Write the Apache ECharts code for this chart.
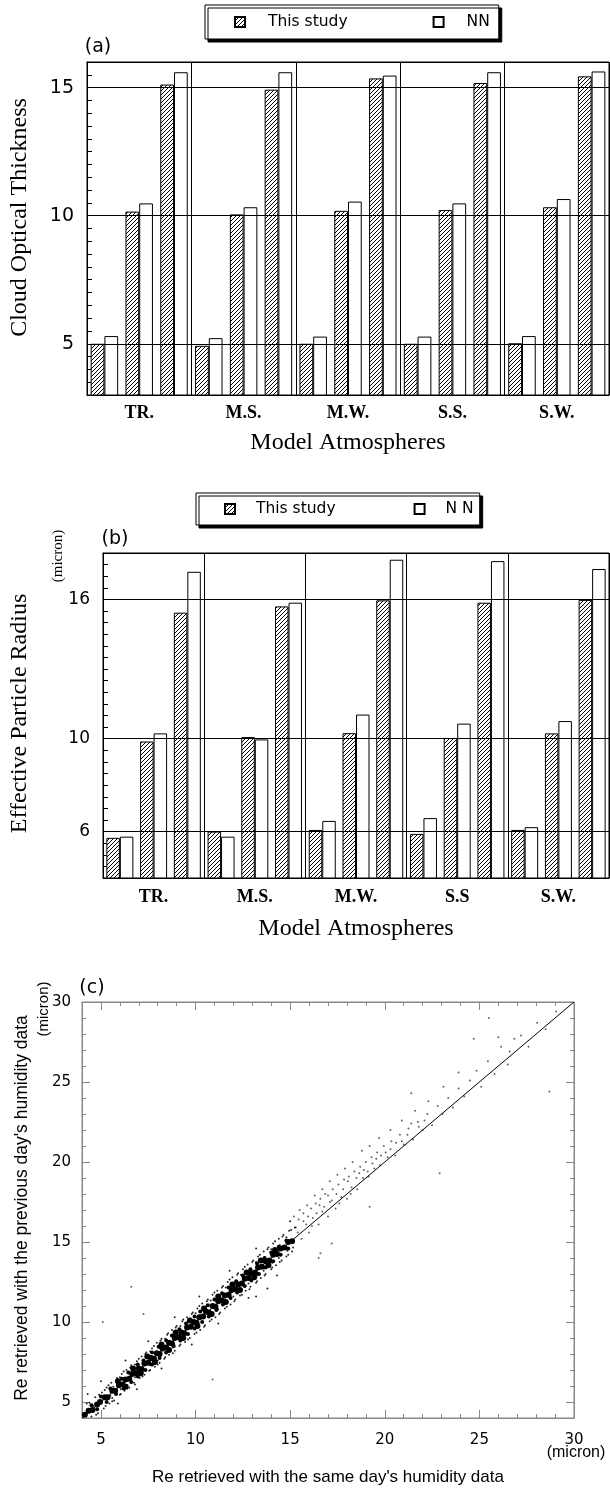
<!DOCTYPE html>
<html>
<head>
<meta charset="utf-8">
<title>Cloud retrieval comparison</title>
<script src="https://cdn.jsdelivr.net/npm/echarts@6.0.0/dist/echarts.min.js"></script>
<style>
  html, body { margin: 0; padding: 0; background: #fff; }
  #chart { width: 610px; height: 1489px; }
</style>
</head>
<body>
<div id="chart"></div>
<script>
// (a) cloud optical thickness, true values 5 / 10 / 15
const atmosA = ["TR.", "M.S.", "M.W.", "S.S.", "S.W."];
const tauTicks = [5, 10, 15];
const studyTau5 = [5.0, 4.92, 5.0, 5.0, 5.02];
const nnTau5 = [5.3, 5.22, 5.28, 5.28, 5.3];
const studyTau10 = [10.16, 10.05, 10.19, 10.22, 10.33];
const nnTau10 = [10.48, 10.33, 10.55, 10.48, 10.65];
const studyTau15 = [15.12, 14.92, 15.36, 15.18, 15.44];
const nnTau15 = [15.6, 15.6, 15.47, 15.6, 15.63];

// (b) effective particle radius, true values 6 / 10 / 16 micron
const atmosB = ["TR.", "M.S.", "M.W.", "S.S", "S.W."];
const reTicks = [6, 10, 16];
const studyRe6 = [5.73, 6.0, 6.07, 5.9, 6.07];
const nnRe6 = [5.78, 5.78, 6.46, 6.58, 6.19];
const studyRe10 = [9.88, 10.07, 10.24, 10.03, 10.23];
const nnRe10 = [10.23, 9.97, 11.04, 10.65, 10.76];
const studyRe16 = [15.43, 15.7, 15.96, 15.86, 15.98];
const nnRe16 = [17.19, 15.86, 17.71, 17.65, 17.31];

// (c) Re same day vs previous day (micron)
const scatterTicks = [5, 10, 15, 20, 25, 30];
const oneToOneX = [4, 30];
const oneToOneY = [4, 30];
// dense ridge of the cloud
const coreDots = [
  [4.15,4.2],[4.35,4.45],[4.55,4.5],[4.8,4.85],[4.95,5.0],[5.2,5.3],[5.35,5.3],[5.6,5.7],[5.75,5.7],[5.95,6.05],
  [6.15,6.1],[6.3,6.4],[6.5,6.45],[6.65,6.75],[6.85,6.8],[7.0,7.1],[7.15,7.05],[7.3,7.4],[7.5,7.45],[7.65,7.75],
  [7.8,7.7],[7.95,8.05],[8.1,8.0],[8.25,8.35],[8.45,8.4],[8.6,8.7],[8.75,8.65],[8.9,9.0],[9.1,9.05],[9.25,9.35],
  [9.4,9.3],[9.55,9.65],[9.75,9.7],[9.9,10.0],[10.05,9.95],[10.2,10.3],[10.4,10.35],[10.55,10.65],[10.7,10.6],[10.9,11.0],
  [11.05,10.95],[11.2,11.3],[11.4,11.35],[11.55,11.65],[11.75,11.7],[11.9,12.0],[12.1,12.05],[12.25,12.35],[12.45,12.4],[12.6,12.7],
  [12.8,12.75],[12.95,13.05],[13.15,13.1],[13.3,13.4],[13.5,13.45],[13.7,13.8],[13.9,13.85],[14.1,14.2],[14.3,14.25],[14.5,14.6],
  [14.7,14.65],[14.9,15.0],[15.1,15.05],
  [5.9,6.3],[6.7,7.1],[7.45,7.85],[8.2,8.6],[8.95,9.35],[9.7,10.1],[10.45,10.85],[11.2,11.6],[11.95,12.35],[12.7,13.1],
  [13.45,13.85],[14.2,14.5],[6.3,5.95],[7.1,6.8],[7.85,7.5],[8.6,8.25],[9.35,9.0],[10.1,9.75],[10.85,10.5],[11.6,11.25],
  [12.35,12.0],[13.1,12.8],[13.85,13.55]
];
// edges of the ridge
const edgeDots = [
  [4.5,4.8],[5.0,5.35],[5.5,5.85],[6.1,6.45],[6.45,6.85],[6.95,7.35],[7.25,7.6],[7.7,8.1],[8.05,8.45],[8.45,8.85],
  [8.75,9.15],[9.15,9.55],[9.5,9.9],[9.95,10.35],[10.25,10.65],[10.65,11.05],[11.0,11.4],[11.4,11.8],[11.75,12.15],[12.15,12.55],
  [12.5,12.9],[12.9,13.3],[13.25,13.65],[13.65,14.0],[14.0,14.35],[14.4,14.7],[14.8,15.1],
  [4.8,4.55],[5.3,5.0],[5.8,5.5],[6.2,5.85],[6.6,6.25],[6.95,6.6],[7.35,7.0],[7.7,7.35],[8.1,7.75],[8.45,8.1],
  [8.85,8.5],[9.2,8.85],[9.6,9.25],[9.95,9.6],[10.35,10.0],[10.7,10.35],[11.1,10.75],[11.45,11.1],[11.85,11.5],[12.2,11.85],
  [12.6,12.25],[12.95,12.6],[13.35,13.0],[13.7,13.4],[14.1,13.8],[14.5,14.2],[14.9,14.6]
];
const haloDots = [
  [4.25,4.9],[4.5,4.1],[4.7,5.3],[4.85,4.3],[5.05,5.6],[5.15,4.6],[5.3,5.9],[5.45,4.9],[5.55,6.2],[5.7,5.1],
  [5.85,6.5],[6.0,5.45],[6.1,6.75],[6.25,5.7],[6.35,7.0],[6.5,5.9],[6.6,7.3],[6.75,6.2],[6.9,7.55],[7.05,6.5],
  [7.15,7.85],[7.3,6.7],[7.4,8.1],[7.55,6.95],[7.7,8.35],[7.85,7.2],[7.95,8.7],[8.1,7.45],[8.2,8.95],[8.35,7.7],
  [8.5,9.2],[8.6,7.95],[8.75,9.5],[8.9,8.2],[9.0,9.75],[9.15,8.5],[9.3,10.05],[9.45,8.75],[9.55,10.3],[9.7,9.0],
  [9.85,10.6],[9.95,9.25],[10.1,10.85],[10.25,9.5],[10.35,11.15],[10.5,9.8],[10.65,11.4],[10.75,10.05],[10.9,11.7],[11.05,10.3],
  [11.15,11.95],[11.3,10.6],[11.45,12.25],[11.55,10.85],[11.7,12.5],[11.85,11.1],[11.95,12.8],[12.1,11.4],[12.25,13.05],[12.35,11.65],
  [12.5,13.3],[12.65,11.95],[12.75,13.6],[12.9,12.2],[13.05,13.85],[13.2,12.45],[13.3,14.1],[13.45,12.75],[13.6,14.4],[13.7,13.0],
  [13.85,14.65],[14.0,13.3],[14.1,14.9],[14.25,13.55],[14.4,15.2],[14.55,13.85],[14.65,15.45],[14.8,14.1],[14.95,15.7],[15.1,14.4],
  [15.25,15.9],[4.6,4.75],[5.1,5.35],[5.5,5.4],[5.65,5.95],[6.05,5.8],[6.45,6.8],[6.8,6.55],[7.25,7.6],[7.6,7.3],
  [8.05,8.4],[8.4,8.1],[8.85,9.2],[9.2,8.85],[9.6,10.0],[10.0,9.65],[10.45,10.8],[10.8,10.45],[11.25,11.6],[11.65,11.3],
  [12.05,12.45],[12.4,12.05],[12.85,13.2],[13.25,12.9],[13.65,14.05],[14.05,13.7],[14.45,14.8],[14.85,14.45],
  [4.3,5.5],[5.0,6.3],[5.9,4.9],[6.3,7.6],[6.9,5.8],[7.5,8.8],[8.2,7.1],[8.9,10.3],[9.8,8.6],[10.2,11.6],
  [11.2,9.9],[11.8,13.2],[12.8,11.5],[13.2,14.6],[14.3,12.9],[15.0,16.3],[13.2,11.6],[13.8,12.1],
  [4.4,4.95],[4.75,4.2],[4.9,5.45],[5.25,4.75],[5.4,6.05],[5.6,5.05],[5.8,6.35],[6.05,5.5],[6.2,6.9],[6.4,5.85],
  [6.55,7.15],[6.8,6.1],[7.0,7.7],[7.2,6.6],[7.35,8.0],[7.6,7.0],[7.8,8.5],[8.0,7.35],[8.15,8.85],[8.4,7.8],
  [8.55,9.3],[8.8,8.05],[8.95,9.65],[9.2,8.6],[9.35,10.15],[9.6,8.9],[9.8,10.5],[10.05,9.35],[10.2,11.0],[10.45,9.7],
  [10.6,11.3],[10.85,10.15],[11.0,11.85],[11.25,10.5],[11.4,12.15],[11.65,10.95],[11.8,12.65],[12.05,11.3],[12.2,12.95],[12.45,11.7],
  [12.6,13.45],[12.85,12.05],[13.0,13.75],[13.25,12.55],[13.4,14.2],[13.65,12.9],[13.8,14.55],[14.05,13.4],[14.2,15.05],[14.45,13.75],
  [14.6,15.35],[14.9,14.2],[15.05,15.75],[15.15,14.65],
  [5.2,5.75],[5.6,5.25],[6.0,6.55],[6.4,6.05],[6.8,7.35],[7.2,6.85],[7.6,8.15],[8.0,7.6],[8.4,8.95],[8.8,8.4],
  [9.2,9.75],[9.6,9.2],[10.0,10.55],[10.4,10.0],[10.8,11.35],[11.2,10.8],[11.6,12.15],[12.0,11.6],[12.4,12.95],[12.8,12.4],
  [13.2,13.75],[13.6,13.2],[14.0,14.55],[14.4,14.0],[14.8,15.3]
];
const sparseDots = [
  [15.3,15.9],[15.45,16.4],[15.6,15.2],[15.7,16.8],[15.85,16.1],[16.0,15.6],[16.1,17.1],[16.2,16.5],[16.35,17.4],[16.5,16.1],
  [16.6,17.7],[16.7,16.9],[16.85,18.0],[17.0,16.6],[17.1,17.5],[17.25,18.3],[17.4,17.1],[17.55,18.6],[17.7,17.8],[17.85,18.9],
  [18.0,17.7],[18.1,19.1],[18.25,18.4],[18.4,19.4],[18.55,18.3],[18.7,19.7],[18.85,19.0],[19.0,20.0],[19.15,19.1],[19.3,20.3],
  [19.45,19.6],[19.6,20.6],[19.75,19.8],[19.95,21.0],[20.15,20.3],[20.35,21.3],[20.55,20.4],[20.8,21.7],[21.0,21.1],[21.25,22.1],
  [21.5,21.4],[21.75,22.5],[22.0,22.0],[22.25,23.0],[22.5,22.3],[22.8,23.5],[23.05,23.0],[23.35,24.0],[23.6,23.4],[23.9,24.6],
  [24.2,24.1],[24.5,25.1],[24.85,25.7],[25.1,24.7],[25.45,26.3],[25.8,25.5],[26.15,27.2],[26.5,26.1],[26.85,27.7],[27.2,27.9],
  [27.6,27.2],[28.05,28.7],[28.5,28.3],[29.05,29.4],
  [15.2,16.6],[15.5,17.0],[15.9,17.3],[16.3,17.9],[16.7,18.3],[17.1,18.8],[17.5,19.2],[17.9,19.6],[18.3,20.0],[18.8,20.7],
  [19.2,21.0],[19.7,21.5],[20.3,22.0],[20.9,22.6],[21.6,23.2],[22.3,23.8],[23.1,24.7],[23.9,25.6],
  [15.4,15.6],[15.7,16.3],[15.95,16.6],[16.15,16.0],[16.4,16.8],[16.55,17.3],[16.8,17.2],[17.0,17.9],[17.2,17.6],[17.45,18.0],
  [17.6,17.4],[17.8,18.3],[18.05,18.8],[18.2,18.0],[18.5,19.0],[18.65,19.3],[18.9,19.5],[19.1,19.4],[19.35,19.9],[19.55,20.2],
  [19.8,20.4],[20.05,20.6],[20.3,20.8],[20.6,21.2],[20.9,21.3],[21.2,21.7],[21.4,22.4],[21.8,22.2],[22.1,22.6],
  [25.5,29.0],[28.7,24.4],[22.9,19.3],[19.2,17.2],[21.4,24.3],[24.7,27.7],[26.0,27.8],[26.6,26.9],[17.2,14.9],[16.6,14.3],
  [16.5,14.0],[5.1,10.0],[6.6,12.2],[7.25,10.5],[10.9,6.4]
];

const serif = "Liberation Serif";
const sans = "DejaVu Sans";
const helv = "Liberation Sans";
const black = { color: "#000", width: 1 };
const gray = { color: "#888", width: 1 };

function interleave(a, b, c) {
  const out = [];
  for (let i = 0; i < a.length; i++) out.push(a[i], b[i], c[i]);
  return out;
}

function slots(n) {
  return Array.from({ length: n }, (_, i) => "s" + i);
}

function hatchCanvas() {
  const c = document.createElement("canvas");
  c.width = 4;
  c.height = 4;
  const ctx = c.getContext("2d");
  ctx.fillStyle = "#fff";
  ctx.fillRect(0, 0, 4, 4);
  ctx.strokeStyle = "#000";
  ctx.lineWidth = 1;
  ctx.beginPath();
  ctx.moveTo(0, 4); ctx.lineTo(4, 0);
  ctx.moveTo(-1, 1); ctx.lineTo(1, -1);
  ctx.moveTo(3, 5); ctx.lineTo(5, 3);
  ctx.stroke();
  return c;
}
const hatch = { image: hatchCanvas(), repeat: "repeat" };

function barXAxes(gridIndex, cats, labelMargin, nameGap) {
  return [
    {
      gridIndex, type: "category", position: "bottom", data: slots(15),
      axisLine: { lineStyle: black },
      axisTick: { inside: true, length: 8, interval: 0, lineStyle: black },
      axisLabel: { show: false }, splitLine: { show: false },
    },
    {
      gridIndex, type: "category", position: "bottom", data: cats,
      axisLine: { show: false }, axisTick: { show: false },
      axisLabel: { interval: 0, margin: labelMargin, fontFamily: serif, fontWeight: "bold", fontSize: 18, color: "#000" },
      splitLine: { show: true, interval: 0, lineStyle: black },
      name: "Model Atmospheres", nameLocation: "middle", nameGap,
      nameTextStyle: { fontFamily: serif, fontSize: 24, color: "#000" },
    },
    {
      gridIndex, type: "category", position: "top", data: slots(30),
      axisLine: { lineStyle: black },
      axisTick: { inside: true, length: 5, interval: 0, lineStyle: black },
      axisLabel: { show: false },
    },
  ];
}

function barYAxis(gridIndex, min, max, ticks, fontSize, name, nameGap, shift) {
  return {
    gridIndex, type: "value", min, max, interval: 0.5,
    axisLine: { show: true, lineStyle: black },
    axisTick: { show: true, inside: true, length: 5, lineStyle: black },
    axisLabel: { customValues: ticks, margin: 13, fontFamily: sans, fontSize, color: "#000" },
    splitLine: { show: false },
    name, nameLocation: "middle", nameGap,
    nameTextStyle: { fontFamily: serif, fontSize: 24, color: "#000", padding: [0, 0, 0, shift] },
  };
}

// two overlaid value axes per side: long ticks every 5, short ticks every 1
function scatterAxes(position, extra) {
  const major = Object.assign({
    gridIndex: 2, type: "value", min: 4, max: 30, position,
    axisLine: { show: true, lineStyle: gray },
    axisTick: { show: true, inside: true, length: 8, customValues: scatterTicks, lineStyle: gray },
    axisLabel: { show: false },
    splitLine: { show: false },
  }, extra || {});
  const minor = {
    gridIndex: 2, type: "value", min: 4, max: 30, interval: 1, position,
    axisLine: { show: false },
    axisTick: { show: true, inside: true, length: 4, lineStyle: gray },
    axisLabel: { show: false },
    splitLine: { show: false },
  };
  return [major, minor];
}

function refLines(values) {
  return {
    silent: true, symbol: "none", animation: false,
    label: { show: false },
    lineStyle: { color: "#000", width: 1, type: "solid" },
    data: values.map((v) => ({ yAxis: v })),
  };
}

function barSeries(xi, yi, study, nn, gap, levels) {
  return [
    {
      name: "This study", type: "bar", xAxisIndex: xi, yAxisIndex: yi,
      data: study, barGap: "0%", barCategoryGap: gap,
      itemStyle: { color: hatch, borderColor: "#000", borderWidth: 1 },
      emphasis: { disabled: true },
    },
    {
      name: "NN", type: "bar", xAxisIndex: xi, yAxisIndex: yi,
      data: nn, barGap: "0%", barCategoryGap: gap,
      itemStyle: { color: "#fff", borderColor: "#000", borderWidth: 1 },
      emphasis: { disabled: true },
      markLine: refLines(levels),
    },
  ];
}

function legendBox(left, top, padding, gap, textPad, spaced) {
  return {
    left, top, orient: "horizontal", selectedMode: false,
    data: ["This study", "NN"],
    icon: "rect", itemWidth: 10, itemHeight: 10, itemGap: gap,
    padding,
    backgroundColor: "#fff", borderColor: "#000", borderWidth: 1,
    shadowColor: "#000", shadowOffsetX: 3, shadowOffsetY: 3, shadowBlur: 0,
    formatter: (n) => (spaced && n === "NN" ? "N N" : n),
    textStyle: { fontFamily: sans, fontSize: 15.5, color: "#000", padding: [0, 0, 0, textPad] },
  };
}

function label(text, x, y, font, rotation) {
  return {
    type: "text", x, y, rotation: rotation || 0,
    style: { text, font, fill: "#000", textAlign: "center", textVerticalAlign: "middle" },
  };
}

function dots(data, size, color, opacity) {
  return {
    type: "scatter", xAxisIndex: 6, yAxisIndex: 2, data,
    symbolSize: size, itemStyle: { color, opacity }, emphasis: { disabled: true },
  };
}

const chart = echarts.init(document.getElementById("chart"));

const scatterBottom = scatterAxes("bottom", {
  axisLabel: { show: true, customValues: scatterTicks, margin: 15, fontFamily: sans, fontSize: 15, color: "#000" },
  name: "Re retrieved with the same day's humidity data",
  nameLocation: "middle", nameGap: 51,
  nameTextStyle: { fontFamily: helv, fontSize: 17, color: "#000" },
});
const scatterLeft = scatterAxes("left", {
  axisLabel: { show: true, customValues: scatterTicks, margin: 11, fontFamily: sans, fontSize: 15, color: "#000" },
  name: "Re retrieved with the previous day's humidity data",
  nameLocation: "middle", nameGap: 51,
  nameTextStyle: { fontFamily: helv, fontSize: 17.5, color: "#000", padding: [0, 0, 0, 4] },
});

chart.setOption({
  animation: false,
  backgroundColor: "#fff",
  legend: [
    legendBox(205, 5, [9, 9, 9, 29], 85, 18, false),
    legendBox(196, 493, [8, 6, 8, 28], 78, 16, true),
  ],
  grid: [
    { left: 87, top: 62, right: 1, height: 333, show: true, borderColor: "#000", borderWidth: 1 },
    { left: 103, top: 553, right: 1, height: 325, show: true, borderColor: "#000", borderWidth: 1 },
    { left: 82, top: 1002, width: 492, height: 416, show: true, borderColor: "#888", borderWidth: 1 },
  ],
  xAxis: [
    ...barXAxes(0, atmosA, 9, 36),
    ...barXAxes(1, atmosB, 10, 39),
    ...scatterBottom,
    ...scatterAxes("top"),
  ],
  yAxis: [
    barYAxis(0, 3, 16, tauTicks, 19, "Cloud Optical Thickness", 55, 22),
    barYAxis(1, 4, 18, reTicks, 17, "Effective Particle Radius", 71, 4),
    ...scatterLeft,
    ...scatterAxes("right"),
  ],
  graphic: [
    label("(a)", 98, 47, "19px " + sans),
    label("(b)", 115, 539, "19px " + sans),
    label("(c)", 92, 988, "19px " + sans),
    label("(micron)", 58, 556, "15px " + serif, Math.PI / 2),
    label("(micron)", 44, 1009, "15px " + helv, Math.PI / 2),
    label("(micron)", 576, 1453, "16px " + helv),
  ],
  series: [
    ...barSeries(0, 0, interleave(studyTau5, studyTau10, studyTau15), interleave(nnTau5, nnTau10, nnTau15), "21%", tauTicks),
    ...barSeries(3, 1, interleave(studyRe6, studyRe10, studyRe16), interleave(nnRe6, nnRe10, nnRe16), "20%", reTicks),
    dots(sparseDots, 2, "#333", 0.75),
    dots(haloDots, 2, "#000", 0.85),
    dots(edgeDots, 4, "#000", 1),
    dots(coreDots, 6, "#000", 1),
    {
      type: "line", xAxisIndex: 6, yAxisIndex: 2,
      data: oneToOneX.map((x, i) => [x, oneToOneY[i]]),
      symbol: "none", lineStyle: { color: "#000", width: 1 }, z: 5,
    },
  ],
});
</script>
</body>
</html>
